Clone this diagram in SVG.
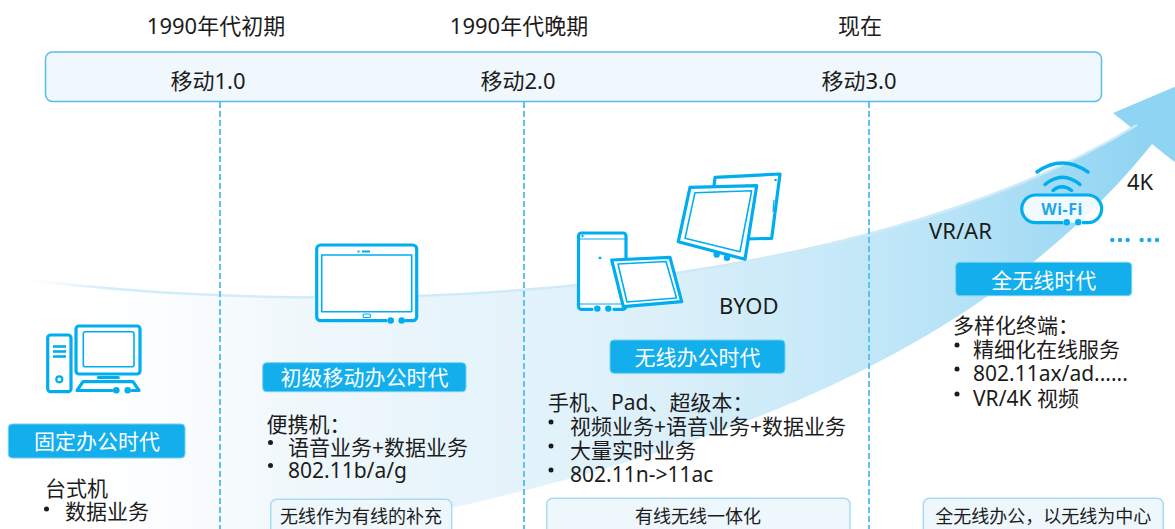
<svg xmlns="http://www.w3.org/2000/svg" width="1175" height="529" viewBox="0 0 1175 529">
  <defs>
    <style>
      .t { font-family: "Noto Sans", "Noto Sans CJK SC", sans-serif; fill: #1c1c1c; }
      .hdr { font-size: 22px; text-anchor: middle; }
      .body { font-size: 21px; }
      .tag { font-size: 21px; fill: #ffffff; text-anchor: middle; }
      .note { font-size: 18px; text-anchor: middle; }
      .tagbox { fill: #12afec; stroke: #74cff3; stroke-width: 1; }
      .notebox { fill: #eef7fc; stroke: #a9dcf3; stroke-width: 1.5; }
      .div { stroke: #5cc3ef; stroke-width: 2; stroke-dasharray: 6 3; fill: none; }
      .ico { fill: #ffffff; stroke: #00aeef; stroke-width: 3.2; stroke-linejoin: round; stroke-linecap: round; }
      .ico-thin { fill: none; stroke: #00aeef; stroke-width: 1.6; stroke-linejoin: round; }
      .dot { fill: #00aeef; }
      .bullet { fill: #1c1c1c; }
    </style>
    <linearGradient id="bandFill" gradientUnits="userSpaceOnUse" x1="30" y1="0" x2="1170" y2="0">
      <stop offset="0" stop-color="#ffffff" stop-opacity="0"/>
      <stop offset="0.22" stop-color="#f1f8fc"/>
      <stop offset="0.55" stop-color="#dcf0fa"/>
      <stop offset="0.8" stop-color="#b9e4f7"/>
      <stop offset="1" stop-color="#8bd2f2"/>
    </linearGradient>
    <linearGradient id="bandEdge" gradientUnits="userSpaceOnUse" x1="30" y1="0" x2="700" y2="0">
      <stop offset="0" stop-color="#d4edf9" stop-opacity="0"/>
      <stop offset="0.12" stop-color="#d4edf9"/>
      <stop offset="1" stop-color="#cdeaf8"/>
    </linearGradient>
  </defs>

  <!-- growth swoosh -->
  <g id="swoosh">
    <path d="M30,280 C350,320 850,300 1137,125 L1157,138 C950,400 600,480 300,540 L30,540 Z" fill="url(#bandFill)"/>
    <polygon points="1113,113 1250,55 1230,200 1172,160" fill="#8fd4f2"/>
    <path d="M30,280 C350,320 850,300 1137,125" fill="none" stroke="url(#bandEdge)" stroke-width="2.5"/>
  </g>

  <!-- era headings -->
  <g id="eras">
    <text class="t hdr" x="216" y="34">1990年代初期</text>
    <text class="t hdr" x="519" y="34">1990年代晚期</text>
    <text class="t hdr" x="860" y="34">现在</text>
  </g>

  <!-- stage banner -->
  <g id="banner">
    <rect x="45.5" y="52" width="1056" height="49.5" rx="7" fill="#f0f8fd" stroke="#56bde9" stroke-width="1.5"/>
    <text class="t hdr" x="208" y="89">移动1.0</text>
    <text class="t hdr" x="518" y="89">移动2.0</text>
    <text class="t hdr" x="859" y="89">移动3.0</text>
  </g>

  <!-- column dividers -->
  <g id="connectors">
    <line class="div" x1="220" y1="102" x2="220" y2="529"/>
    <line class="div" x1="524" y1="102" x2="524" y2="529"/>
    <line class="div" x1="869" y1="102" x2="869" y2="529"/>
  </g>

  <!-- fixed office era -->
  <g id="fixed-office">
    <g id="desktop-icon">
      <rect class="ico" x="47.7" y="335" width="23.3" height="56.7" rx="3"/>
      <line x1="53" y1="346.5" x2="66" y2="346.5" stroke="#00aeef" stroke-width="2.6"/>
      <line x1="53" y1="351.5" x2="66" y2="351.5" stroke="#00aeef" stroke-width="2.6"/>
      <line x1="53" y1="356.5" x2="66" y2="356.5" stroke="#00aeef" stroke-width="2.6"/>
      <circle cx="59.3" cy="379.3" r="3" fill="none" stroke="#00aeef" stroke-width="2.2"/>
      <rect class="ico" x="76" y="326" width="64" height="48" rx="3"/>
      <rect class="ico-thin" x="83.3" y="331.7" width="50.7" height="35" rx="2" stroke-width="2.2"/>
      <line x1="98.3" y1="377.5" x2="118.3" y2="377.5" stroke="#00aeef" stroke-width="3" stroke-linecap="round"/>
      <path class="ico" d="M112,390.5 H77 L83,381.7 H133 L139,390.5 H132" fill="none"/>
      <circle class="dot" cx="116.3" cy="390.3" r="3.3"/>
      <circle class="dot" cx="127.7" cy="390.3" r="3.3"/>
    </g>
    <rect class="tagbox" x="8.3" y="424" width="176.7" height="34" rx="4"/>
    <text class="t tag" x="97" y="449">固定办公时代</text>
    <text class="t body" x="45" y="496">台式机</text>
    <circle class="bullet" cx="46.5" cy="509" r="2.5"/>
    <text class="t body" x="65" y="519">数据业务</text>
  </g>

  <!-- early mobile office era -->
  <g id="early-mobile">
    <g id="tablet-icon">
      <path class="ico" d="M386,320.7 H320.7 A4,4 0 0 1 316.7,316.7 V249 A4,4 0 0 1 320.7,245 H412.7 A4,4 0 0 1 416.7,249 V316.7 A4,4 0 0 1 412.7,320.7 H406"/>
      <rect class="ico-thin" x="321.7" y="255" width="90" height="56.7"/>
      <rect x="357.5" y="250.5" width="2" height="2" fill="#00aeef"/>
      <rect x="362" y="250.5" width="8" height="2" fill="#00aeef"/>
      <rect x="363" y="314" width="7.5" height="3.5" rx="1.6" fill="none" stroke="#00aeef" stroke-width="1.2"/>
      <circle class="dot" cx="390.7" cy="320.5" r="3.3"/>
      <circle class="dot" cx="401.7" cy="320.5" r="3.3"/>
    </g>
    <rect class="tagbox" x="262.7" y="362.7" width="203.3" height="29" rx="4"/>
    <text class="t tag" x="364.5" y="385">初级移动办公时代</text>
    <text class="t body" x="266.5" y="432">便携机：</text>
    <circle class="bullet" cx="270.5" cy="442.5" r="2.5"/>
    <text class="t body" x="288" y="455">语音业务+数据业务</text>
    <circle class="bullet" cx="270.5" cy="465.5" r="2.5"/>
    <text class="t body" x="288" y="478">802.11b/a/g</text>
    <rect class="notebox" x="270.7" y="499.3" width="181" height="40" rx="6"/>
    <text class="t note" x="361" y="523">无线作为有线的补充</text>
  </g>

  <!-- wireless office era -->
  <g id="wireless-office">
    <g id="byod-icons">
      <!-- back tablet -->
      <polygon class="ico" points="715,177.3 780,174 771.7,238.3 708,240"/>
      <line x1="774" y1="200" x2="773" y2="212" stroke="#00aeef" stroke-width="1.2"/>
      <circle class="dot" cx="775.5" cy="180" r="1.3"/>
      <!-- front tablet -->
      <polygon class="ico" points="690,187.3 756.7,185.7 745,259.3 678.3,241.7"/>
      <polygon class="ico-thin" points="695,192.7 751.7,190.7 740,251.7 685,238.3"/>
      <circle class="dot" cx="716.7" cy="254.5" r="3.2"/>
      <circle class="dot" cx="727" cy="257.8" r="3.2"/>
      <!-- portrait tablet -->
      <path class="ico" d="M592,309.3 H581.5 A3,3 0 0 1 578.5,306.3 V236 A3,3 0 0 1 581.5,233 H623 A3,3 0 0 1 626,236 V306.3 A3,3 0 0 1 623,309.3 H614"/>
      <line x1="578.5" y1="239" x2="626" y2="239" stroke="#00aeef" stroke-width="1.2"/>
      <line x1="578.5" y1="304" x2="626" y2="304" stroke="#00aeef" stroke-width="1.2"/>
      <circle class="dot" cx="582.5" cy="236" r="1.2"/>
      <path d="M598,259 l2,-3 l2,3 z" fill="#00aeef"/>
      <circle class="dot" cx="597.3" cy="308.6" r="3.2"/>
      <circle class="dot" cx="608.3" cy="308.6" r="3.2"/>
      <!-- small landscape tablet -->
      <polygon class="ico" points="611.7,260 670,257.3 681.7,301.7 623.3,306.7"/>
      <polygon class="ico-thin" points="618,264 666,261.5 676.5,298 627,302"/>
    </g>
    <text class="t" x="719" y="314" font-size="22">BYOD</text>
    <rect class="tagbox" x="610" y="340" width="175" height="33.3" rx="4"/>
    <text class="t tag" x="697.5" y="365">无线办公时代</text>
    <text class="t body" x="548" y="410">手机、Pad、超级本：</text>
    <circle class="bullet" cx="551" cy="422" r="2.5"/>
    <text class="t body" x="570" y="434">视频业务+语音业务+数据业务</text>
    <circle class="bullet" cx="551" cy="446" r="2.5"/>
    <text class="t body" x="570" y="458">大量实时业务</text>
    <circle class="bullet" cx="551" cy="470" r="2.5"/>
    <text class="t body" x="570" y="482">802.11n-&gt;11ac</text>
    <rect class="notebox" x="546.7" y="498.3" width="303.3" height="40" rx="6"/>
    <text class="t note" x="698" y="523">有线无线一体化</text>
  </g>

  <!-- all-wireless era -->
  <g id="all-wireless">
    <g id="wifi-icon">
      <path d="M1037,172 Q1062,154 1088,172" fill="none" stroke="#00aeef" stroke-width="3.5" stroke-linecap="round"/>
      <path d="M1045,184.5 Q1062.5,170 1080,184.5" fill="none" stroke="#00aeef" stroke-width="3.5" stroke-linecap="round"/>
      <path d="M1053,190.5 Q1062,183 1071.5,190.5" fill="none" stroke="#00aeef" stroke-width="3.5" stroke-linecap="round"/>
      <path d="M1063,222.7 H1035.55 A13.85,13.85 0 0 1 1035.55,195 H1087.85 A13.85,13.85 0 0 1 1087.85,222.7 H1082" fill="#ffffff" fill-opacity="0.85" stroke="#00aeef" stroke-width="3.2"/>
      <circle class="dot" cx="1066.7" cy="222.2" r="3.2"/>
      <circle class="dot" cx="1078.3" cy="222.2" r="3.2"/>
      <text x="1062" y="214.5" font-family="Noto Sans, sans-serif" font-weight="bold" font-size="16" fill="#1ea8e8" text-anchor="middle" letter-spacing="0.5">Wi-Fi</text>
    </g>
    <text class="t" x="929" y="239" font-size="22">VR/AR</text>
    <text class="t" x="1127" y="190" font-size="22">4K</text>
    <g id="more-dots" fill="#1eaaea">
      <circle cx="1112.3" cy="240" r="2.2"/>
      <circle cx="1120" cy="240" r="2.2"/>
      <circle cx="1127.7" cy="240" r="2.2"/>
      <circle cx="1141.7" cy="240" r="2.2"/>
      <circle cx="1149.3" cy="240" r="2.2"/>
      <circle cx="1157" cy="240" r="2.2"/>
    </g>
    <rect class="tagbox" x="955.7" y="262.3" width="176" height="33.4" rx="4"/>
    <text class="t tag" x="1043.7" y="288">全无线时代</text>
    <text class="t body" x="953" y="333">多样化终端：</text>
    <circle class="bullet" cx="957" cy="345" r="2.5"/>
    <text class="t body" x="973" y="357">精细化在线服务</text>
    <circle class="bullet" cx="957" cy="369" r="2.5"/>
    <text class="t body" x="973" y="381">802.11ax/ad......</text>
    <circle class="bullet" cx="957" cy="394" r="2.5"/>
    <text class="t body" x="973" y="406">VR/4K 视频</text>
    <rect class="notebox" x="923.3" y="498.3" width="240" height="40" rx="6"/>
    <text class="t note" x="1043.3" y="523">全无线办公，以无线为中心</text>
  </g>
</svg>
